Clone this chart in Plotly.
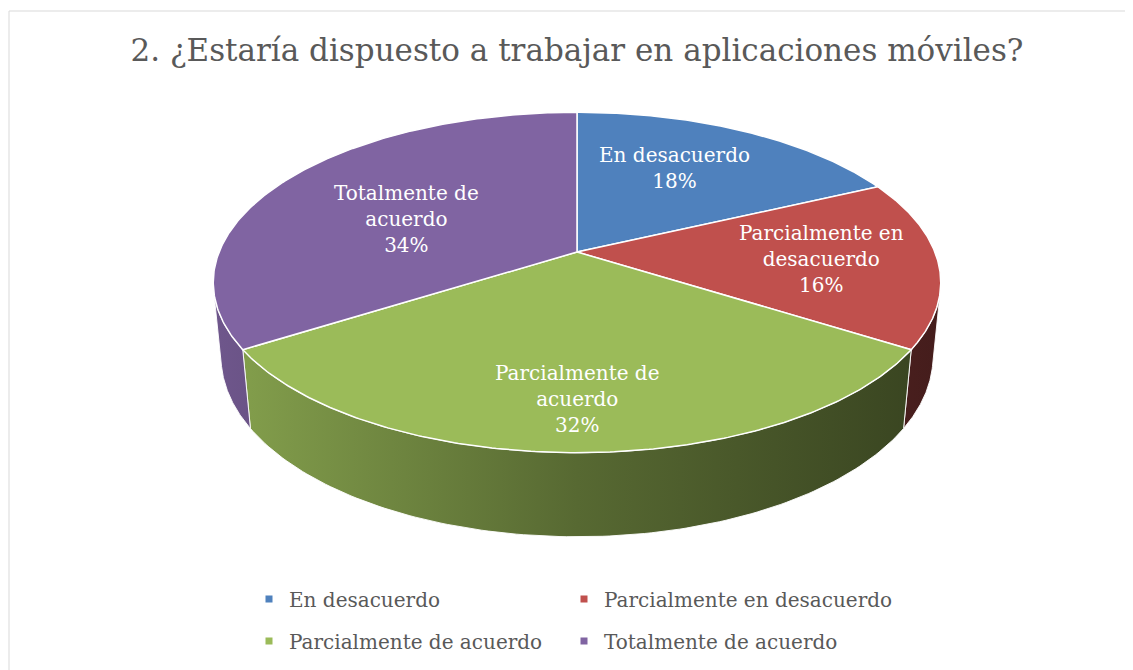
import numpy as np
import plotly.graph_objects as go

# ---------------- data ----------------
categories = ["En desacuerdo", "Parcialmente en desacuerdo",
              "Parcialmente de acuerdo", "Totalmente de acuerdo"]
percentages = [18, 16, 32, 34]
label_lines = ["En desacuerdo", "Parcialmente en<br>desacuerdo",
               "Parcialmente de<br>acuerdo", "Totalmente de<br>acuerdo"]
title_text = "2. ¿Estaría dispuesto a trabajar en aplicaciones móviles?"

# ---------------- style ----------------
colors = ["#4F81BD", "#C0504D", "#9BBB59", "#8064A2"]
label_radius = [0.60, 0.67, 0.77, 0.57]
label_xshift = [-8, 3, 0, 0]
label_yshift = [7, 0, 0, -10]
FONT = "DejaVu Serif"
TXT = "#595959"

# perspective "3D pie" projection parameters
F = 1806.0
XS = 0.986
DIST = 4.976
PHI = np.radians(27.0)
THICK = 0.232
W, H = 1133, 670
OFF = 8                     # page body margin
CX, CY = 577 - OFF, 252 - OFF  # apex location in figure pixels


def project(t, r, z):
    x3 = r * np.sin(t)
    y3 = r * np.cos(t)
    depth = y3 * np.cos(PHI) - z * np.sin(PHI) + DIST
    X = XS * F * x3 / depth
    Y = F * (y3 * np.sin(PHI) + z * np.cos(PHI)) / depth
    return X, Y


def shade(hexc, f):
    h = hexc.lstrip("#")
    r, g, b = (int(h[i:i + 2], 16) for i in (0, 2, 4))
    return "rgb(%d,%d,%d)" % (round(r * f), round(g * f), round(b * f))


vals = np.array(percentages, dtype=float)
cum = np.concatenate([[0], np.cumsum(vals)]) / vals.sum() * 2 * np.pi

# visible part of the side wall
tv = np.arccos(-1.0 / (DIST * np.cos(PHI)))
tv0, tv1 = tv, 2 * np.pi - tv

fig = go.Figure()

# side walls
xl, _ = project(-np.pi / 2, 1, 0)
xr, _ = project(np.pi / 2, 1, 0)
for i, c in enumerate(colors):
    a, b = max(cum[i], tv0), min(cum[i + 1], tv1)
    if a >= b:
        continue
    ts = np.linspace(a, b, 120)
    xt, yt = project(ts, 1, 0)
    xb, yb = project(ts[::-1], 1, -THICK)
    xs = np.concatenate([xt, xb, xt[:1]])
    ys = np.concatenate([yt, yb, yt[:1]])
    fig.add_trace(go.Scatter(
        x=xs, y=ys, mode="lines", fill="toself",
        line=dict(color="rgba(255,255,255,0.9)", width=1),
        fillcolor=shade(c, 0.55),
        fillgradient=dict(type="horizontal", start=xl, stop=xr,
                          colorscale=[[0, shade(c, 0.86)], [0.5, shade(c, 0.56)],
                                      [1, shade(c, 0.36)]]),
        hoverinfo="skip", showlegend=False))

# top faces
for i, c in enumerate(colors):
    ts = np.linspace(cum[i], cum[i + 1], 200)
    xa, ya = project(ts, 1, 0)
    xs = np.concatenate([[0], xa, [0]])
    ys = np.concatenate([[0], ya, [0]])
    fig.add_trace(go.Scatter(
        x=xs, y=ys, mode="lines", fill="toself", fillcolor=c,
        line=dict(color="white", width=1.5),
        hoverinfo="skip", showlegend=False))

# labels
for i in range(len(categories)):
    tm = 0.5 * (cum[i] + cum[i + 1])
    lx, ly = project(tm, label_radius[i], 0)
    fig.add_annotation(x=lx, y=ly, xref="x", yref="y", showarrow=False,
                       xshift=label_xshift[i], yshift=label_yshift[i],
                       text=f"{label_lines[i]}<br>{percentages[i]}%",
                       font=dict(family=FONT, size=20, color="white"),
                       align="center")

# legend entries: one legend box per cell of a 2x2 grid
leg_names = ["legend", "legend2", "legend3", "legend4"]
for i, (cat, c) in enumerate(zip(categories, colors)):
    fig.add_trace(go.Scatter(
        x=[None], y=[None], mode="markers", name=cat,
        marker=dict(symbol="square", size=7, color=c),
        legend=leg_names[i]))

leg_common = dict(orientation="h", xanchor="left", yanchor="middle",
                  itemwidth=30, bgcolor="rgba(0,0,0,0)",
                  font=dict(family=FONT, size=20, color=TXT))

col_x = [(249 - OFF) / W, (249 + 315 - OFF) / W]
row_y = [1 - (599 - OFF) / H, 1 - (641 - OFF) / H]
legend_layout = {}
for i, name in enumerate(leg_names):
    legend_layout[name] = dict(x=col_x[i % 2], y=row_y[i // 2], **leg_common)

fig.update_layout(
    width=W, height=H, autosize=False,
    margin=dict(l=0, r=0, t=0, b=0),
    paper_bgcolor="white", plot_bgcolor="white",
    title=dict(text=title_text, x=(577 - OFF) / W, xanchor="center",
               y=1 - (50 - OFF) / H, yanchor="middle",
               font=dict(family=FONT, size=31, color=TXT)),
    xaxis=dict(visible=False, range=[-CX, W - CX], fixedrange=True),
    yaxis=dict(visible=False, range=[-(H - CY), CY], fixedrange=True),
    hovermode=False,
    shapes=[dict(type="rect", xref="paper", yref="paper",
                 x0=(9 - OFF) / W, x1=1.2, y0=-0.2, y1=1 - (11 - OFF) / H,
                 line=dict(color="#D9D9D9", width=1), fillcolor="rgba(0,0,0,0)",
                 layer="below")],
    **legend_layout,
)

fig.write_html("out.html")
